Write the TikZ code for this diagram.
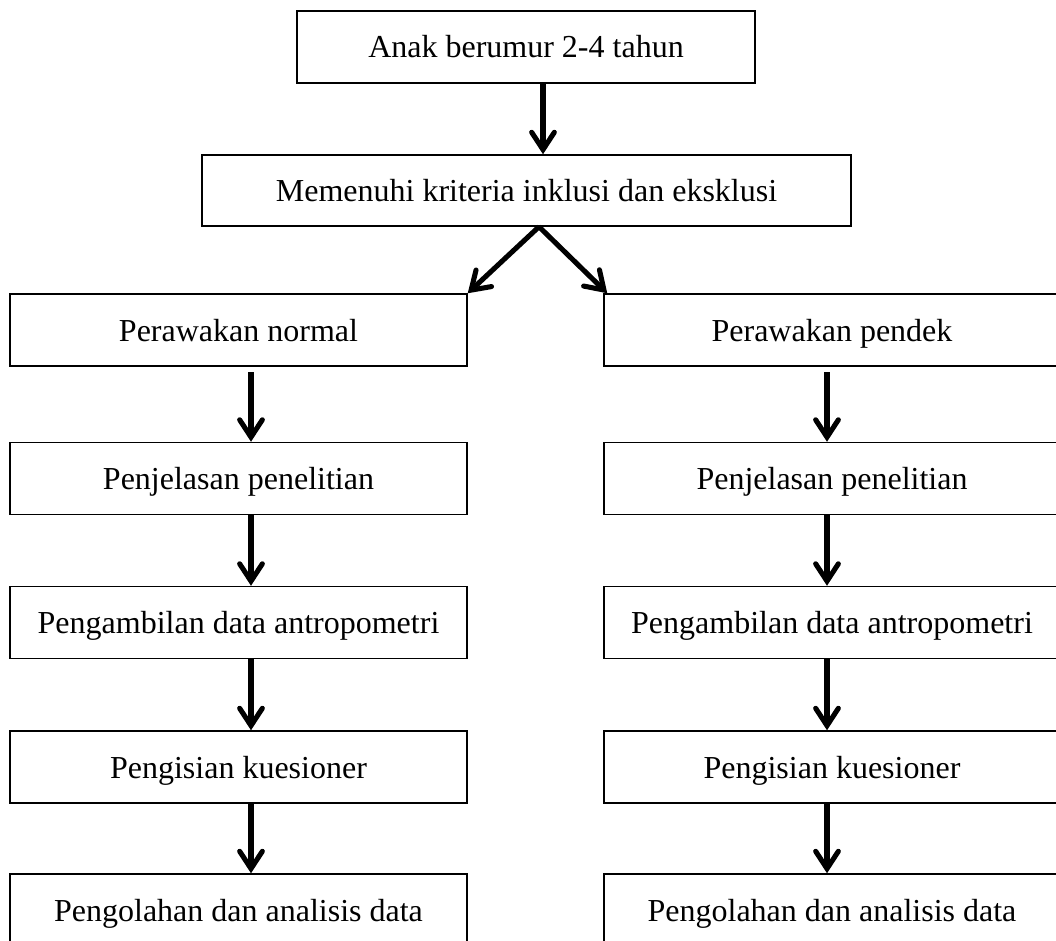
\documentclass[tikz,border=0pt]{standalone}
\usepackage{fontspec}
\setmainfont{Liberation Serif}
\usetikzlibrary{arrows.meta}

\tikzset{every picture/.style={line width=0.75pt}}
\tikzset{
  kotak/.style={draw, line width=1.1pt, inner sep=0pt, minimum height=54pt,
    text height=22pt, text depth=5.5pt, font=\fontsize{24}{28}\selectfont},
  panah/.style={line width=3.8pt, -{Straight Barb[length=13pt,width=17pt,line cap=round]}}
}

\begin{document}
\begin{tikzpicture}[x=0.75pt,y=0.75pt,yscale=-1,xscale=1]
\useasboundingbox (0,0) rectangle (1056,941);
\clip (0,0) rectangle (1056,941);

%Shape: Rectangle
\node [kotak, minimum width=343.5pt] (anak) at (526,47) {Anak berumur 2-4 tahun};
%Shape: Rectangle
\node [kotak, minimum width=486.75pt, minimum height=53.25pt] (kriteria) at (526.5,190.5) {Memenuhi kriteria inklusi dan eksklusi};

%Shape: Rectangle (kolom kiri)
\node [kotak, minimum width=342.75pt] (normal) at (238.5,330) {Perawakan normal};
\node [kotak, minimum width=342.75pt] (jelasL) at (238.5,478.5) {Penjelasan penelitian};
\node [kotak, minimum width=342.75pt] (ambilL) at (238.5,622.5) {Pengambilan data antropometri};
\node [kotak, minimum width=342.75pt] (isiL) at (238.5,767) {Pengisian kuesioner};
\node [kotak, minimum width=342.75pt] (olahL) at (238.5,910) {Pengolahan dan analisis data};

%Shape: Rectangle (kolom kanan)
\node [kotak, minimum width=342pt] (pendek) at (832,330) {Perawakan pendek};
\node [kotak, minimum width=342pt] (jelasR) at (832,478.5) {Penjelasan penelitian};
\node [kotak, minimum width=342pt] (ambilR) at (832,622.5) {Pengambilan data antropometri};
\node [kotak, minimum width=342pt] (isiR) at (832,767) {Pengisian kuesioner};
\node [kotak, minimum width=342pt] (olahR) at (832,910) {Pengolahan dan analisis data};

\coordinate (tengah) at (543,0);
\coordinate (cabang) at (539,0);
\coordinate (kiri) at (251,0);
\coordinate (kanan) at (827,0);

%Straight Lines
\draw [panah] (anak.south -| tengah) -- (kriteria.north -| tengah);
\draw [panah] (kriteria.south -| cabang) -- (normal.north east);
\draw [panah] (kriteria.south -| cabang) -- ([xshift=3pt]pendek.north west);

%Straight Lines (kolom kiri)
\draw [panah, shorten <=4pt] (normal.south -| kiri) -- (jelasL.north -| kiri);
\draw [panah] (jelasL.south -| kiri) -- (ambilL.north -| kiri);
\draw [panah] (ambilL.south -| kiri) -- (isiL.north -| kiri);
\draw [panah] (isiL.south -| kiri) -- (olahL.north -| kiri);

%Straight Lines (kolom kanan)
\draw [panah, shorten <=4pt] (pendek.south -| kanan) -- (jelasR.north -| kanan);
\draw [panah] (jelasR.south -| kanan) -- (ambilR.north -| kanan);
\draw [panah] (ambilR.south -| kanan) -- (isiR.north -| kanan);
\draw [panah] (isiR.south -| kanan) -- (olahR.north -| kanan);

\end{tikzpicture}
\end{document}
